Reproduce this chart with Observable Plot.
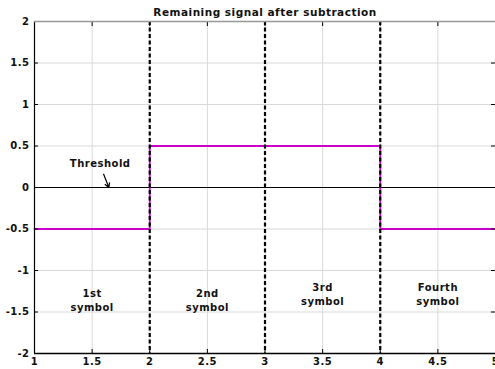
<!DOCTYPE html>
<html><head><meta charset="utf-8">
<script src="https://cdn.jsdelivr.net/npm/d3@7"></script>
<script src="https://cdn.jsdelivr.net/npm/@observablehq/plot@0.6"></script>
<style>body{margin:0;background:#fff}svg{display:block}svg text{letter-spacing:0.5px}</style>
</head><body><div id="chart"></div>
<script>
const title = "Remaining signal after subtraction";
const stepX = [1, 2, 4, 5];
const stepY = [-0.5, 0.5, -0.5, -0.5];
const boundaries = [2, 3, 4];
const xTicks = [1, 1.5, 2, 2.5, 3, 3.5, 4, 4.5, 5];
const yTicks = [-2, -1.5, -1, -0.5, 0, 0.5, 1, 1.5, 2];
const symbolLabels = ["1st\nsymbol", "2nd\nsymbol", "3rd\nsymbol", "Fourth\nsymbol"];
const symbolX = [1.5, 2.5, 3.5, 4.5];
const symbolY = [-1.35, -1.35, -1.28, -1.28];
const thresholdText = "Threshold";
const thresholdPos = [1.57, 0.28];
const arrowFrom = [1.6, 0.16];
const arrowTo = [1.645, 0.0];

const step = stepX.map((x, i) => ({x, y: stepY[i]}));
const syms = symbolLabels.map((t, i) => ({t, x: symbolX[i], y: symbolY[i]}));
const font = "DejaVu Sans, Verdana, sans-serif";
const noLabel = () => "";

const plot = Plot.plot({
  width: 495, height: 369,
  marginTop: 21, marginBottom: 16, marginLeft: 34, marginRight: 0,
  style: {fontFamily: font, fontSize: "10px", fontWeight: "bold", background: "#fff", overflow: "visible"},
  x: {domain: [1, 5], ticks: xTicks, label: null},
  y: {domain: [-2, 2], ticks: yTicks, label: null},
  marks: [
    Plot.gridX(xTicks, {stroke: "#d9d9d9", strokeOpacity: 1, strokeWidth: 1}),
    Plot.gridY(yTicks, {stroke: "#d9d9d9", strokeOpacity: 1, strokeWidth: 1}),
    Plot.ruleY([0], {stroke: "#000", strokeWidth: 1.2}),
    Plot.line(step, {x: "x", y: "y", curve: "step-after", stroke: "#cc00cc", strokeWidth: 1.8}),
    Plot.ruleX(boundaries, {stroke: "#000", strokeWidth: 2.2, strokeDasharray: "4,2.5"}),
    Plot.text(syms, {x: "x", y: "y", text: "t", fontSize: 10, fontWeight: "bold", lineHeight: 1.35, fill: "#111"}),
    Plot.text([thresholdText], {x: thresholdPos[0], y: thresholdPos[1], fontSize: 10, fontWeight: "bold", fill: "#111"}),
    Plot.arrow([0], {x1: arrowFrom[0], y1: arrowFrom[1], x2: arrowTo[0], y2: arrowTo[1], stroke: "#000", strokeWidth: 1.2, headLength: 7}),
    Plot.axisX(xTicks, {anchor: "bottom", tickSize: -4, tickPadding: 8, tickFormat: d => String(d), fontWeight: "bold", fill: "#111", label: null}),
    Plot.axisX(xTicks, {anchor: "top", tickSize: -4, tickFormat: noLabel, label: null}),
    Plot.axisY(yTicks, {anchor: "left", tickSize: -4, tickPadding: 9, tickFormat: d => String(d), fontWeight: "bold", fill: "#111", label: null}),
    Plot.axisY(yTicks, {anchor: "right", tickSize: -5, tickFormat: noLabel, label: null}),
    Plot.ruleX([1], {stroke: "#000", strokeWidth: 1.2}),
    Plot.ruleY([-2], {stroke: "#000", strokeWidth: 1.5}),
    Plot.ruleY([2], {stroke: "#999", strokeWidth: 1.5}),
    Plot.text([title], {frameAnchor: "top", dy: -13, fontSize: 10.5, fontWeight: "bold", fill: "#111"})
  ]
});
document.getElementById("chart").appendChild(plot);
</script></body></html>
